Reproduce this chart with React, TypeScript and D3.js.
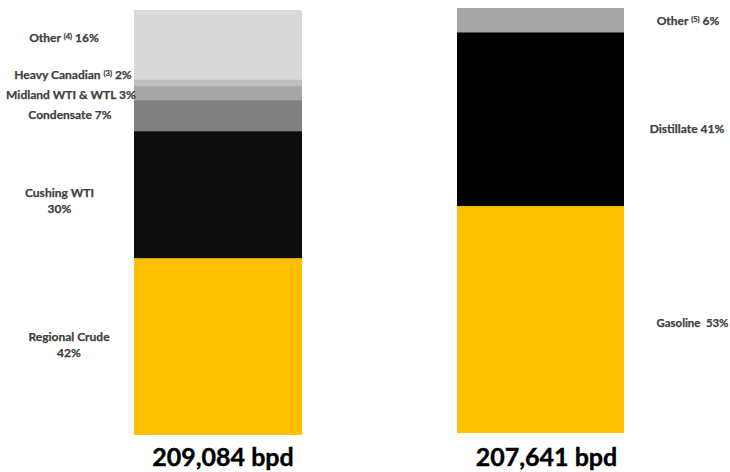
import React from "react";
import * as d3 from "d3";

const crudeCategories = ["Regional Crude", "Cushing WTI", "Condensate", "Midland WTI & WTL", "Heavy Canadian", "Other"];
const crudeValues = [41.6, 29.9, 7.3, 3.3, 1.6, 16.3];
const crudeColors = ["#ffc000", "#0d0d0d", "#808080", "#a6a6a6", "#bfbfbf", "#d9d9d9"];
const crudeLabels = [
  { lines: [["Regional Crude"], ["42%"]] },
  { lines: [["Cushing WTI"], ["30%"]] },
  { lines: [["Condensate 7%"]] },
  { lines: [["Midland WTI & WTL 3%"]] },
  { lines: [["Heavy Canadian ", "(3)", " 2%"]] },
  { lines: [["Other ", "(4)", " 16%"]] },
];

const productCategories = ["Gasoline", "Distillate", "Other"];
const productValues = [53.4, 40.9, 5.7];
const productColors = ["#ffc000", "#000000", "#a6a6a6"];
const productLabels = [
  { lines: [["Gasoline\u00a0\u00a053%"]] },
  { lines: [["Distillate 41%"]] },
  { lines: [["Other ", "(5)", " 6%"]] },
];

const totals = ["209,084 bpd", "207,641 bpd"];

const W = 730;
const H = 472;
const labelFont = "Lato, 'Open Sans', sans-serif";

function stack(values: number[]) {
  let acc = 0;
  return values.map((v) => {
    const s = { y0: acc, y1: acc + v };
    acc += v;
    return s;
  });
}

function Label({ x, y, lines, anchor, size = 12 }: { x: number; y: number; lines: string[][]; anchor: string; size?: number }) {
  const lh = 16;
  const startY = y - ((lines.length - 1) * lh) / 2;
  return (
    <text
      textAnchor={anchor as any}
      fontFamily={labelFont}
      fontWeight={700}
      fontSize={size}
      fill="#404040"
      stroke="#404040"
      strokeWidth={0.25}
    >
      {lines.map((parts, i) => (
        <tspan key={i} x={x} y={startY + i * lh} dy="0.35em">
          {parts.map((p, j) =>
            j === 1 && parts.length === 3 ? (
              <tspan key={j} fontSize={7.5} dy="-0.45em">
                {p}
              </tspan>
            ) : j === 2 ? (
              <tspan key={j} dy="0.28em">
                {p}
              </tspan>
            ) : (
              <tspan key={j}>{p}</tspan>
            )
          )}
        </tspan>
      ))}
    </text>
  );
}

export default function App() {
  const yLeft = d3.scaleLinear().domain([0, 100]).range([435, 10]);
  const yRight = d3.scaleLinear().domain([0, 100]).range([433, 8]);
  const xL = 134, wL = 168;
  const xR = 457, wR = 167;

  const cs = stack(crudeValues);
  const ps = stack(productValues);

  const crudeLabelX = [69, 59.5, 70, 71, 73, 64];
  const crudeLabelDy = [-2, 6, -0.5, 2, -7.5, -6.5];
  const productLabelX = [692.5, 687, 688];
  const productLabelDy = [3.5, 10, 1];
  const productLabelSize = [11.4, 12, 12];

  return (
    <svg width={W} height={H} style={{ position: "absolute", left: 0, top: 0, background: "#fff" }}>
      {cs.map((s, i) => (
        <rect
          key={crudeCategories[i]}
          x={xL}
          width={wL}
          y={yLeft(s.y1)}
          height={yLeft(s.y0) - yLeft(s.y1)}
          fill={crudeColors[i]}
        />
      ))}
      {ps.map((s, i) => (
        <rect
          key={productCategories[i]}
          x={xR}
          width={wR}
          y={yRight(s.y1)}
          height={yRight(s.y0) - yRight(s.y1)}
          fill={productColors[i]}
        />
      ))}
      {cs.map((s, i) => (
        <Label
          key={"l" + i}
          x={crudeLabelX[i]}
          y={yLeft((s.y0 + s.y1) / 2) + crudeLabelDy[i]}
          lines={crudeLabels[i].lines}
          anchor="middle"
        />
      ))}
      {ps.map((s, i) => (
        <Label
          key={"p" + i}
          x={productLabelX[i]}
          y={yRight((s.y0 + s.y1) / 2) + productLabelDy[i]}
          lines={productLabels[i].lines}
          anchor="middle"
          size={productLabelSize[i]}
        />
      ))}
      <text x={223} y={457.5} dy="0.35em" textAnchor="middle" fontFamily={labelFont} fontWeight={700} fontSize={25} fill="#000" stroke="#000" strokeWidth={0.4}>
        {totals[0]}
      </text>
      <text x={546.5} y={457.5} dy="0.35em" textAnchor="middle" fontFamily={labelFont} fontWeight={700} fontSize={25} fill="#000" stroke="#000" strokeWidth={0.4}>
        {totals[1]}
      </text>
    </svg>
  );
}
